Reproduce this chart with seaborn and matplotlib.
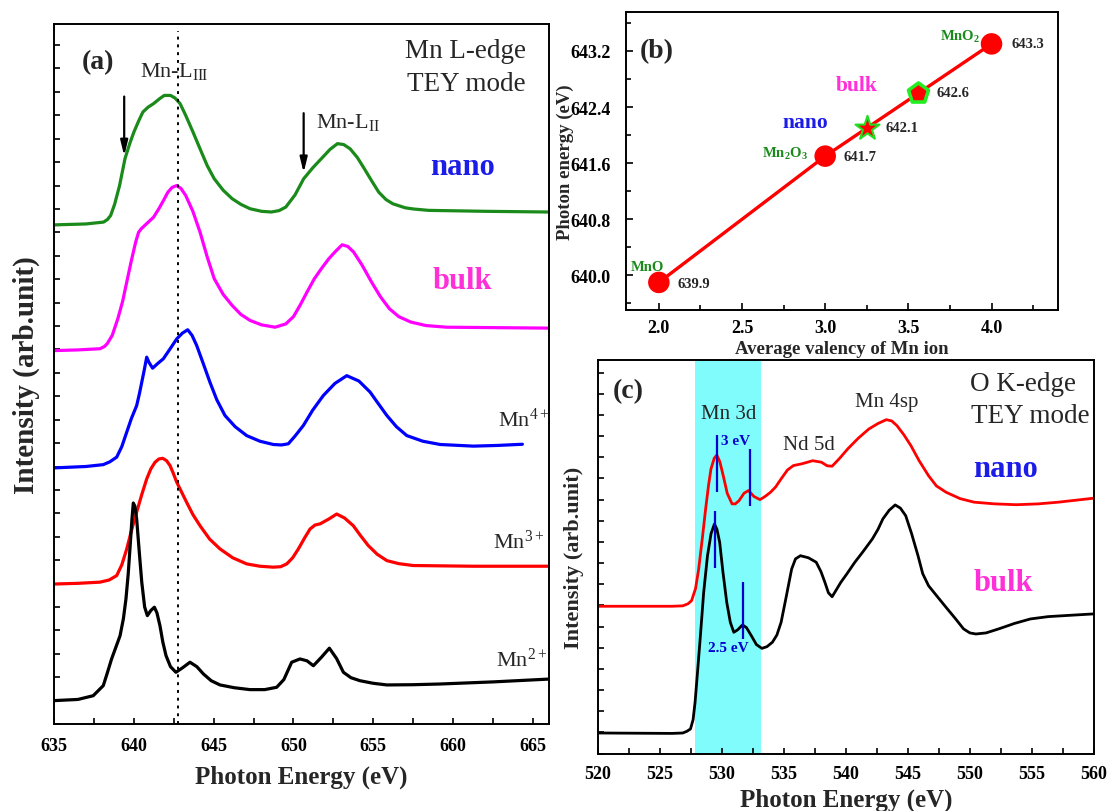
# Mn L-edge / valency / O K-edge figure

import matplotlib
matplotlib.use("Agg")
import matplotlib.pyplot as plt
import seaborn as sns
from matplotlib.ticker import MultipleLocator

# ---------------- data ----------------
# (a) Mn L-edge spectra (stacked, arbitrary intensity units), (energy, intensity)
a_nano = [(635.0, 21.32), (637.0, 21.36), (638.11, 21.44), (638.35, 21.55), (638.55, 21.72),
          (638.8, 22.2), (639.11, 23.00), (639.45, 24.15), (639.75, 24.8), (640.01, 25.29),
          (640.3, 25.75), (640.57, 26.14), (640.9, 26.35), (641.24, 26.50), (641.6, 26.7),
          (641.91, 26.85), (642.3, 26.85), (642.58, 26.74), (642.9, 26.5), (643.25, 26.00),
          (643.7, 25.3), (644.15, 24.57), (644.6, 23.85), (645.04, 23.29), (645.6, 22.8),
          (646.16, 22.44), (646.7, 22.2), (647.28, 22.01), (648.0, 21.9), (648.62, 21.87),
          (649.1, 21.93), (649.52, 22.08), (650.1, 22.6), (650.64, 23.29), (651.2, 23.75),
          (651.75, 24.15), (652.3, 24.55), (652.76, 24.79), (653.15, 24.75), (653.55, 24.57),
          (654.0, 24.2), (654.44, 23.72), (654.9, 23.2), (655.34, 22.72), (655.8, 22.4),
          (656.23, 22.22), (657.0, 22.05), (657.5, 22.00), (658.47, 21.94), (662.0, 21.90),
          (666.0, 21.87)]

a_bulk = [(635.0, 15.95), (636.5, 15.98), (637.88, 16.03), (638.15, 16.12), (638.33, 16.24),
          (638.65, 16.6), (639.0, 17.31), (639.3, 18.05), (639.56, 18.88), (639.85, 19.8),
          (640.12, 20.59), (640.3, 21.0), (640.46, 21.15), (640.85, 21.4), (641.24, 21.65),
          (641.57, 22.01), (641.85, 22.35), (642.14, 22.72), (642.4, 22.92), (642.69, 23.00),
          (642.95, 22.88), (643.25, 22.58), (643.7, 21.9), (644.15, 21.01), (644.6, 19.95),
          (645.04, 19.02), (645.6, 18.35), (646.16, 17.88), (646.7, 17.5), (647.28, 17.24),
          (648.0, 17.05), (648.85, 16.95), (649.52, 17.09), (650.0, 17.4), (650.41, 17.88),
          (650.85, 18.45), (651.31, 19.02), (651.75, 19.45), (652.21, 19.87), (652.65, 20.2),
          (653.05, 20.47), (653.4, 20.4), (653.77, 20.16), (654.3, 19.6), (654.89, 18.88),
          (655.45, 18.25), (656.01, 17.74), (656.6, 17.4), (657.35, 17.17), (658.3, 17.02),
          (659.59, 16.95), (666.0, 16.91)]

a_mn4 = [(635.0, 10.94), (637.0, 11.0), (638.09, 11.08), (638.5, 11.2), (638.93, 11.40),
         (639.25, 11.85), (639.56, 12.47), (639.85, 13.05), (640.18, 13.60), (640.35, 14.1),
         (640.50, 14.60), (640.65, 15.1), (640.81, 15.67), (640.95, 15.45), (641.18, 15.20),
         (641.5, 15.4), (641.85, 15.60), (642.25, 16.0), (642.69, 16.45), (643.05, 16.7),
         (643.38, 16.84), (643.65, 16.6), (643.94, 16.17), (644.35, 15.4), (644.77, 14.60),
         (645.2, 13.85), (645.71, 13.18), (646.35, 12.7), (647.07, 12.32), (647.9, 12.08),
         (648.74, 11.94), (649.25, 11.92), (649.68, 11.97), (650.1, 12.3), (650.62, 12.75),
         (651.2, 13.4), (651.87, 14.03), (652.6, 14.55), (653.34, 14.88), (654.1, 14.65),
         (654.80, 14.18), (655.3, 13.7), (655.85, 13.18), (656.45, 12.7), (657.10, 12.32),
         (658.1, 12.08), (659.19, 11.94), (661.27, 11.87), (662.8, 11.9), (664.34, 11.95)]

a_mn3 = [(635.0, 5.98), (636.5, 6.01), (637.88, 6.06), (638.45, 6.15), (638.93, 6.34),
         (639.25, 6.8), (639.56, 7.48), (639.85, 8.25), (640.18, 9.05), (640.5, 9.8),
         (640.81, 10.47), (641.07, 10.9), (641.33, 11.18), (641.57, 11.32), (641.81, 11.35),
         (642.05, 11.25), (642.27, 11.04), (642.48, 10.7), (642.69, 10.33), (643.0, 9.9),
         (643.31, 9.47), (643.7, 8.95), (644.15, 8.47), (644.75, 7.9), (645.40, 7.48),
         (646.2, 7.1), (647.07, 6.84), (647.9, 6.74), (648.74, 6.70), (649.2, 6.72),
         (649.58, 6.84), (649.95, 7.1), (650.31, 7.48), (650.7, 7.95), (651.04, 8.33),
         (651.35, 8.5), (651.67, 8.55), (652.2, 8.75), (652.71, 8.97), (653.2, 8.8),
         (653.75, 8.47), (654.2, 8.05), (654.69, 7.62), (655.25, 7.25), (655.85, 6.98),
         (656.6, 6.85), (657.51, 6.77), (661.27, 6.74), (666.0, 6.74)]

a_mn2 = [(635.0, 1.00), (636.5, 1.05), (637.46, 1.21), (638.09, 1.64), (638.35, 2.2),
         (638.61, 2.78), (639.14, 3.77), (639.35, 4.5), (639.51, 5.34), (639.65, 6.4),
         (639.76, 7.48), (639.88, 8.7), (639.97, 9.44), (640.07, 9.3), (640.18, 8.76),
         (640.35, 7.3), (640.50, 6.06), (640.68, 5.0), (640.85, 4.63), (641.07, 4.85),
         (641.29, 4.99), (641.45, 4.75), (641.64, 4.20), (641.82, 3.5), (642.02, 2.92),
         (642.3, 2.45), (642.64, 2.21), (643.05, 2.4), (643.52, 2.64), (643.95, 2.45),
         (644.36, 2.14), (644.85, 1.85), (645.40, 1.67), (646.3, 1.55), (647.28, 1.47),
         (648.2, 1.47), (648.95, 1.57), (649.4, 1.9), (649.89, 2.64), (650.41, 2.78),
         (650.85, 2.7), (651.25, 2.49), (651.75, 2.85), (652.25, 3.24), (652.7, 2.8),
         (653.13, 2.21), (653.6, 1.98), (654.17, 1.85), (655.0, 1.74), (655.85, 1.67),
         (657.5, 1.68), (659.19, 1.71), (662.5, 1.8), (666.0, 1.92)]

l3_line_energy = 642.75
arrow_energy = [639.4, 650.64]
arrow_top = [26.92, 26.21]
arrow_tip = [24.15, 23.43]

a_xticks = [635, 640, 645, 650, 655, 660, 665]

# (b) L3 edge position vs average valency
ref_valency = [2.0, 3.0, 4.0]
ref_energy = [639.9, 641.7, 643.3]
ref_names = ["MnO", r"Mn$_\mathbf{2}$O$_\mathbf{3}$", r"MnO$_\mathbf{2}$"]
nano_valency, nano_energy = 3.25, 642.1
bulk_valency, bulk_energy = 3.56, 642.6

b_xticks = [2.0, 2.5, 3.0, 3.5, 4.0]
b_yticks = [640.0, 640.8, 641.6, 642.4, 643.2]

# (c) O K-edge spectra, (energy, intensity)
c_nano = [(520.0, 6.96), (526.0, 6.96), (526.87, 6.98), (527.3, 7.08), (527.58, 7.23),
          (527.9, 7.8), (528.15, 8.72), (528.45, 10.2), (528.71, 11.56), (528.95, 12.7),
          (529.14, 13.45), (529.4, 13.95), (529.61, 14.11), (529.85, 13.8), (530.13, 13.13),
          (530.45, 12.3), (530.84, 11.80), (531.1, 11.8), (531.40, 11.95), (531.8, 12.3),
          (532.16, 12.43), (532.6, 12.15), (533.09, 12.00), (533.5, 12.15), (533.94, 12.35),
          (534.35, 12.6), (534.79, 12.98), (535.3, 13.4), (535.78, 13.61), (536.5, 13.7),
          (537.33, 13.84), (538.04, 13.77), (538.5, 13.6), (538.90, 13.58), (539.5, 13.95),
          (540.16, 14.40), (541.0, 14.9), (541.86, 15.34), (542.6, 15.6), (543.27, 15.78),
          (543.7, 15.72), (544.12, 15.50), (544.7, 15.05), (545.25, 14.55), (545.9, 13.85),
          (546.67, 13.13), (547.3, 12.65), (548.08, 12.35), (549.2, 12.05), (550.34, 11.88),
          (552.0, 11.8), (553.73, 11.76), (555.5, 11.8), (557.12, 11.88), (560.0, 12.07)]

c_bulk = [(520.0, 0.97), (526.0, 0.95), (526.87, 0.97), (527.2, 1.05), (527.49, 1.16),
          (527.7, 1.6), (527.86, 2.42), (528.05, 3.8), (528.29, 5.57), (528.55, 7.6),
          (528.86, 9.35), (529.15, 10.4), (529.42, 10.85), (529.62, 10.6), (529.84, 9.99),
          (530.1, 8.6), (530.41, 7.15), (530.7, 6.2), (530.98, 5.73), (531.3, 5.85),
          (531.68, 6.08), (532.0, 5.95), (532.39, 5.57), (532.8, 5.15), (533.24, 4.97),
          (533.65, 5.05), (534.09, 5.26), (534.45, 5.6), (534.79, 6.20), (535.2, 7.4),
          (535.64, 8.72), (535.95, 9.2), (536.35, 9.35), (537.0, 9.25), (537.62, 9.04),
          (538.0, 8.6), (538.32, 8.09), (538.6, 7.6), (538.90, 7.41), (539.2, 7.7),
          (539.60, 8.09), (540.1, 8.5), (540.73, 9.04), (541.4, 9.55), (542.14, 10.14),
          (542.6, 10.6), (542.99, 11.09), (543.5, 11.5), (543.98, 11.75), (544.4, 11.6),
          (544.83, 11.24), (545.3, 10.4), (545.82, 9.35), (546.2, 8.5), (546.67, 7.93),
          (547.4, 7.4), (548.08, 6.91), (548.8, 6.4), (549.49, 5.89), (550.0, 5.7),
          (550.48, 5.65), (551.3, 5.7), (552.32, 5.89), (553.6, 6.15), (554.87, 6.36),
          (556.3, 6.47), (557.70, 6.52), (560.0, 6.60)]

band_range = (527.86, 533.15)          # Mn 3d region
mark_energy = [529.64, 532.25, 529.5, 531.76]
mark_low = [12.35, 11.72, 8.76, 5.41]
mark_high = [15.06, 14.40, 11.48, 8.12]

c_xticks = [520, 525, 530, 535, 540, 545, 550, 555, 560]

# ---------------- style ----------------
sns.set_style("ticks")
plt.rcParams['font.family'] = ['Liberation Serif', 'DejaVu Serif']
plt.rcParams['mathtext.fontset'] = 'custom'
plt.rcParams['mathtext.rm'] = 'Liberation Serif'
plt.rcParams['mathtext.it'] = 'Liberation Serif:italic'
plt.rcParams['mathtext.bf'] = 'Liberation Serif:bold'

GREEN = '#1a8a1a'
MAGENTA = '#ff00ff'
BLUE = '#0000ff'
RED = '#ff0000'
TXT_BLUE = '#1c1ce8'
TXT_PINK = '#ff30d8'


def style_axes(ax, pad_x, pad_y):
    for s in ax.spines.values():
        s.set_linewidth(1.4)
        s.set_color('black')
    ax.tick_params(which='both', direction='in', top=False, right=False,
                   width=1.2, colors='black')
    ax.tick_params(which='major', length=5)
    ax.tick_params(which='minor', length=3.5)
    ax.tick_params(axis='x', pad=pad_x)
    ax.tick_params(axis='y', pad=pad_y)


def draw_curve(ax, pairs, color, lw):
    e, i = zip(*pairs)
    sns.lineplot(x=list(e), y=list(i), ax=ax, color=color, lw=lw, sort=False,
                 estimator=None, solid_joinstyle='round', solid_capstyle='round')


fig = plt.figure(figsize=(11.1, 8.12), dpi=100)
ax_a = fig.add_axes([0.0486, 0.1071, 0.4459, 0.8621])
ax_b = fig.add_axes([0.5636, 0.6164, 0.3896, 0.3672])
ax_c = fig.add_axes([0.5383, 0.0708, 0.4473, 0.4846])

# ---------------- (a) ----------------
draw_curve(ax_a, a_nano, GREEN, 2.3)
draw_curve(ax_a, a_bulk, MAGENTA, 2.3)
draw_curve(ax_a, a_mn4, BLUE, 2.3)
draw_curve(ax_a, a_mn3, RED, 2.3)
draw_curve(ax_a, a_mn2, 'black', 2.3)

ax_a.axvline(l3_line_energy, ymax=0.99, color='black', ls=(0, (1.5, 2.5)), lw=1.4)
for xe, yt, yb in zip(arrow_energy, arrow_top, arrow_tip):
    ax_a.annotate('', xy=(xe, yb), xytext=(xe, yt),
                  arrowprops=dict(arrowstyle='-|>,head_width=0.22,head_length=0.9',
                                  color='black', lw=1.6))

ax_a.set_xlim(635, 666)
ax_a.set_ylim(0, 29.9)
ax_a.set_xticks(a_xticks, [str(t) for t in a_xticks], fontsize=13, fontweight='bold')
ax_a.xaxis.set_minor_locator(MultipleLocator(2.5))
ax_a.set_yticks(range(30))
ax_a.set_yticklabels([])
style_axes(ax_a, 9, 4)
ax_a.tick_params(which='both', length=4.5)
ax_a.set_xlabel("Photon Energy (eV)", fontsize=18, fontweight='bold', va='center')
ax_a.xaxis.set_label_coords(0.5, -0.074)
ax_a.set_ylabel("Intensity (arb.unit)", fontsize=21, fontweight='bold', va='center')
ax_a.yaxis.set_label_coords(-0.055, 0.5)

ax_a.text(637.76, 28.29, "(a)", fontsize=20, fontweight='bold', ha='center', va='center')
ax_a.text(657.0, 28.76, "Mn L-edge", fontsize=19.5, ha='left', va='center')
ax_a.text(657.1, 27.35, "TEY mode", fontsize=19.5, ha='left', va='center')
ax_a.text(640.4, 27.9, r"Mn-L$_{\mathrm{III}}$", fontsize=16, ha='left', va='center')
ax_a.text(651.4, 25.73, r"Mn-L$_{\mathrm{II}}$", fontsize=16, ha='left', va='center')
ax_a.text(660.56, 23.8, "nano", fontsize=22, fontweight='bold', color=TXT_BLUE,
          ha='center', va='center')
ax_a.text(660.56, 18.93, "bulk", fontsize=22, fontweight='bold', color=TXT_PINK,
          ha='center', va='center')
ax_a.text(662.8, 12.75, r"Mn$^{4+}$", fontsize=16, ha='left', va='baseline')
ax_a.text(662.5, 7.51, r"Mn$^{3+}$", fontsize=16, ha='left', va='baseline')
ax_a.text(662.7, 2.49, r"Mn$^{2+}$", fontsize=16, ha='left', va='baseline')

# ---------------- (b) ----------------
sns.lineplot(x=ref_valency, y=ref_energy, ax=ax_b, color=RED, lw=2.4,
             sort=False, estimator=None, zorder=2)
sns.scatterplot(x=ref_valency, y=ref_energy, ax=ax_b, color=RED, s=240,
                edgecolor='none', zorder=3)
sns.scatterplot(x=[nano_valency], y=[nano_energy], ax=ax_b, marker='*', color=RED,
                s=330, edgecolor='#22dd22', linewidth=1.5, zorder=4)
sns.scatterplot(x=[bulk_valency], y=[bulk_energy], ax=ax_b, marker='p', color=RED,
                s=230, edgecolor='#22ee22', linewidth=2.6, zorder=4)

ax_b.set_xlim(1.8, 4.4)
ax_b.set_ylim(639.5, 643.75)
ax_b.set_xticks(b_xticks, [f"{t:.1f}" for t in b_xticks], fontsize=13, fontweight='bold')
ax_b.set_yticks(b_yticks, [f"{t:.1f}" for t in b_yticks], fontsize=13, fontweight='bold')
ax_b.xaxis.set_minor_locator(MultipleLocator(0.25))
ax_b.yaxis.set_minor_locator(MultipleLocator(0.4))
style_axes(ax_b, 6, 11)
ax_b.set_xlabel("Average valency of Mn ion", fontsize=13.5, fontweight='bold', va='center')
ax_b.xaxis.set_label_coords(0.5, -0.126)
ax_b.set_ylabel("Photon energy (eV)", fontsize=13.5, fontweight='bold', va='center')
ax_b.yaxis.set_label_coords(-0.14, 0.5)

ax_b.text(1.99, 643.2, "(b)", fontsize=20, fontweight='bold', ha='center', va='center')
name_pos = [(1.93, 640.13), (2.76, 641.74), (3.81, 643.41)]
for name, (px, py) in zip(ref_names, name_pos):
    ax_b.text(px, py, name, fontsize=10.5, fontweight='bold', color=GREEN,
              ha='center', va='center')
value_pos = [(2.21, 639.89), (3.21, 641.70), (4.22, 643.30)]
for val, (px, py) in zip(ref_energy, value_pos):
    ax_b.text(px, py, f"{val:.1f}", fontsize=10.5, fontweight='bold', ha='center', va='center')
ax_b.text(3.46, 642.11, f"{nano_energy:.1f}", fontsize=10.5, fontweight='bold',
          ha='center', va='center')
ax_b.text(3.77, 642.60, f"{bulk_energy:.1f}", fontsize=10.5, fontweight='bold',
          ha='center', va='center')
ax_b.text(2.88, 642.18, "nano", fontsize=15.5, fontweight='bold', color=TXT_BLUE,
          ha='center', va='center')
ax_b.text(3.19, 642.72, "bulk", fontsize=15.5, fontweight='bold', color=TXT_PINK,
          ha='center', va='center')

# ---------------- (c) ----------------
ax_c.axvspan(band_range[0], band_range[1], color='#80fcfc', lw=0, zorder=0)
draw_curve(ax_c, c_nano, RED, 2.0)
draw_curve(ax_c, c_bulk, 'black', 2.0)
ax_c.vlines(mark_energy, mark_low, mark_high, color='#0000d0', lw=1.6, zorder=4)

ax_c.set_xlim(520, 560)
ax_c.set_ylim(0, 18.6)
ax_c.set_xticks(c_xticks, [str(t) for t in c_xticks], fontsize=13, fontweight='bold')
ax_c.xaxis.set_minor_locator(MultipleLocator(2.5))
ax_c.set_yticks(range(19))
ax_c.set_yticklabels([])
style_axes(ax_c, 8, 4)
ax_c.tick_params(which='both', length=4.5)
ax_c.set_xlabel("Photon Energy (eV)", fontsize=18, fontweight='bold', va='center')
ax_c.xaxis.set_label_coords(0.5, -0.116)
ax_c.set_ylabel("Intensity (arb.unit)", fontsize=16, fontweight='bold', va='center')
ax_c.yaxis.set_label_coords(-0.048, 0.5)

ax_c.text(522.5, 17.15, "(c)", fontsize=20, fontweight='bold', ha='center', va='center')
ax_c.text(550.0, 17.47, "O K-edge", fontsize=19.5, ha='left', va='center')
ax_c.text(550.1, 15.97, "TEY mode", fontsize=19.5, ha='left', va='center')
ax_c.text(530.6, 16.05, "Mn 3d", fontsize=15, ha='center', va='center')
ax_c.text(537.05, 14.59, "Nd 5d", fontsize=15, ha='center', va='center')
ax_c.text(543.33, 16.64, "Mn 4sp", fontsize=15, ha='center', va='center')
ax_c.text(531.09, 14.79, "3 eV", fontsize=11, fontweight='bold', color='#0000d0',
          ha='center', va='center')
ax_c.text(530.55, 5.02, "2.5 eV", fontsize=11, fontweight='bold', color='#0000d0',
          ha='center', va='center')
ax_c.text(552.9, 13.45, "nano", fontsize=22, fontweight='bold', color=TXT_BLUE,
          ha='center', va='center')
ax_c.text(552.7, 8.09, "bulk", fontsize=22, fontweight='bold', color=TXT_PINK,
          ha='center', va='center')

plt.savefig("out.png", dpi=100)
